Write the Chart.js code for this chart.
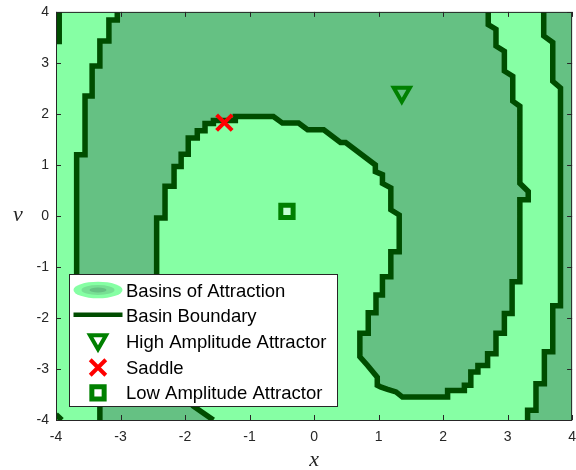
<!DOCTYPE html>
<html>
<head>
<meta charset="utf-8">
<script src="https://cdn.jsdelivr.net/npm/chart.js@4.4.0/dist/chart.umd.min.js"></script>
<style>
  html, body { margin: 0; padding: 0; background: #fff; }
</style>
</head>
<body>
<canvas id="basins" width="576" height="470"></canvas>
<script>
// tick positions on both axes
const xTicks = [-4, -3, -2, -1, 0, 1, 2, 3, 4];
const vTicks = [-4, -3, -2, -1, 0, 1, 2, 3, 4];

// basin boundaries as [x, v] pairs
const outerLeftBoundary = [
  [-3.05, 4.00], [-3.05, 3.84], [-3.18, 3.84], [-3.18, 3.43], [-3.32, 3.43],
  [-3.32, 2.94], [-3.44, 2.94], [-3.44, 2.35], [-3.55, 2.35], [-3.55, 1.20],
  [-3.68, 1.20], [-3.68, -2.40], [-3.55, -2.40], [-3.55, -3.00], [-3.44, -3.00],
  [-3.44, -3.50], [-3.32, -3.50], [-3.32, -4.00]
];
const saddleManifold = [
  [-1.56, -4.00], [-1.87, -3.73], [-2.05, -3.50], [-2.05, -3.30], [-2.18, -3.30],
  [-2.18, -3.00], [-2.31, -3.00], [-2.31, -2.60], [-2.44, -2.60], [-2.44, -0.04],
  [-2.31, -0.04], [-2.31, 0.58], [-2.17, 0.58], [-2.17, 0.97], [-2.06, 0.97],
  [-2.06, 1.21], [-1.95, 1.21], [-1.95, 1.53], [-1.81, 1.53], [-1.81, 1.67],
  [-1.69, 1.67], [-1.69, 1.81], [-1.56, 1.81], [-1.56, 1.87], [-1.22, 1.87],
  [-1.22, 1.95], [-0.63, 1.95], [-0.49, 1.82], [-0.24, 1.82], [-0.10, 1.69],
  [0.15, 1.69], [0.41, 1.44], [0.49, 1.44], [0.95, 1.00], [0.95, 0.87],
  [1.06, 0.81], [1.06, 0.64], [1.19, 0.55], [1.19, 0.12], [1.32, 0.02],
  [1.32, -0.70], [1.19, -0.70], [1.19, -1.19], [1.06, -1.19], [1.06, -1.55],
  [0.96, -1.55], [0.96, -1.90], [0.84, -1.90], [0.84, -2.30], [0.71, -2.30],
  [0.71, -2.76], [0.83, -2.93], [0.98, -3.16], [0.98, -3.32], [1.03, -3.35],
  [1.14, -3.40], [1.27, -3.45], [1.37, -3.55], [2.07, -3.55], [2.07, -3.42],
  [2.33, -3.42], [2.33, -3.32], [2.43, -3.32], [2.43, -3.06], [2.54, -3.06],
  [2.54, -2.93], [2.69, -2.93], [2.69, -2.70], [2.82, -2.70], [2.82, -2.30],
  [2.95, -2.30], [2.95, -1.91], [3.07, -1.91], [3.07, -1.29], [3.19, -1.29],
  [3.19, 0.32], [3.32, 0.32], [3.32, 0.48], [3.19, 0.64], [3.19, 2.15],
  [3.08, 2.25], [3.08, 2.74], [2.95, 2.84], [2.95, 3.23], [2.82, 3.33],
  [2.82, 3.66], [2.70, 3.75], [2.70, 4.00]
];
const outerRightBoundary = [
  [3.56, 4.00], [3.56, 3.53], [3.70, 3.40], [3.70, 2.64], [3.82, 2.51],
  [3.82, -1.76], [3.70, -1.76], [3.70, -2.66], [3.57, -2.66], [3.57, -3.29],
  [3.44, -3.29], [3.44, -3.81], [3.31, -3.81], [3.31, -4.00]
];
const cornerTopLeft = [[-3.95, 4.00], [-3.95, 3.42], [-4.00, 3.42]];
const cornerBottomLeft = [[-4.00, -3.89], [-3.91, -4.00]];
const rightEdge = [[4.00, -4.00], [4.00, 4.00]];

// equilibria
const highAttractor = [1.36, 2.42];
const saddlePoint = [-1.39, 1.83];
const lowAttractor = [-0.42, 0.09];

const legendLabels = ['Basins of Attraction', 'Basin Boundary', 'High Amplitude Attractor', 'Saddle', 'Low Amplitude Attractor'];

const LIGHT = '#86ffa4';
const MID = '#77e094';
const DARK = '#65c183';
const LINE = '#004d00';
const MARK = '#008000';
const RED = '#ff0000';
const AXIS = '#262626';

const pts = a => a.map(([x, y]) => ({ x, y }));
const closed = a => pts(a.concat([a[0]]));

function boundary(data) {
  return { data: pts(data), borderColor: LINE, borderWidth: 5.5, pointRadius: 0, fill: false, order: 1, clip: 0 };
}
function basin(data) {
  return { data: closed(data), borderColor: 'rgba(0,0,0,0)', borderWidth: 0, backgroundColor: DARK, fill: 'shape', pointRadius: 0, order: 2, clip: 0 };
}

function marker(ctx, kind, x, y, r, w, color) {
  ctx.save();
  ctx.strokeStyle = color;
  ctx.lineWidth = w;
  ctx.beginPath();
  if (kind === 'triangleDown') {
    let a = Math.PI;
    for (let k = 0; k < 3; k++) {
      const px = x + Math.sin(a) * r, py = y - Math.cos(a) * r;
      if (k === 0) ctx.moveTo(px, py); else ctx.lineTo(px, py);
      a += 2 * Math.PI / 3;
    }
    ctx.closePath();
  } else if (kind === 'x') {
    const d = r * Math.SQRT1_2;
    ctx.moveTo(x - d, y - d); ctx.lineTo(x + d, y + d);
    ctx.moveTo(x + d, y - d); ctx.lineTo(x - d, y + d);
  } else {
    const s = r * Math.SQRT1_2;
    ctx.rect(x - s, y - s, 2 * s, 2 * s);
  }
  ctx.stroke();
  ctx.restore();
}

const decorations = {
  id: 'decorations',
  beforeDatasetsDraw(chart) {
    const { ctx, chartArea: a } = chart;
    ctx.save();
    ctx.fillStyle = LIGHT;
    ctx.fillRect(a.left, a.top, a.right - a.left, a.bottom - a.top);
    ctx.restore();
  },
  afterDraw(chart) {
    const { ctx, chartArea: a } = chart;
    const xs = chart.scales.x, ys = chart.scales.y;
    ctx.save();
    // inward ticks on all four sides
    ctx.strokeStyle = AXIS;
    ctx.lineWidth = 1;
    ctx.beginPath();
    xTicks.forEach(t => {
      const px = Math.round(xs.getPixelForValue(t)) + 0.5;
      ctx.moveTo(px, a.bottom); ctx.lineTo(px, a.bottom - 5);
      ctx.moveTo(px, a.top); ctx.lineTo(px, a.top + 5);
    });
    vTicks.forEach(t => {
      const py = Math.round(ys.getPixelForValue(t)) + 0.5;
      ctx.moveTo(a.left, py); ctx.lineTo(a.left + 5, py);
      ctx.moveTo(a.right, py); ctx.lineTo(a.right - 5, py);
    });
    ctx.stroke();
    ctx.strokeRect(a.left + 0.5, a.top + 0.5, a.right - a.left - 1, a.bottom - a.top);

    // legend box
    const bx = a.left + 13, by = a.bottom - 146, bw = 268, bh = 132;
    ctx.fillStyle = '#fff';
    ctx.fillRect(bx, by, bw, bh);
    ctx.strokeRect(bx + 0.5, by + 0.5, bw, bh);
    const ix = bx + 29, tx = bx + 57;
    const row = i => by + 16 + i * 25.7;

    // contour icon
    [[24.5, 8.3, LIGHT], [16.5, 5, MID], [8.5, 2.4, DARK]].forEach(([rx, ry, c]) => {
      ctx.fillStyle = c;
      ctx.beginPath();
      ctx.ellipse(ix, row(0), rx, ry, 0, 0, 2 * Math.PI);
      ctx.fill();
    });
    // line icon
    ctx.strokeStyle = LINE;
    ctx.lineWidth = 4.5;
    ctx.beginPath();
    ctx.moveTo(ix - 24.5, row(1) - 1); ctx.lineTo(ix + 24.5, row(1) - 1);
    ctx.stroke();
    marker(ctx, 'triangleDown', ix, row(2) - 1.4, 9.3, 4, MARK);
    marker(ctx, 'x', ix, row(3) + 0.4, 11, 4, RED);
    marker(ctx, 'square', ix, row(4), 8.7, 5, MARK);

    ctx.fillStyle = '#000';
    ctx.font = '18.5px "Liberation Sans", Arial, sans-serif';
    ctx.textAlign = 'left';
    ctx.textBaseline = 'alphabetic';
    legendLabels.forEach((s, i) => ctx.fillText(s, tx, row(i) + 6.5));

    // axis titles
    ctx.fillStyle = AXIS;
    ctx.font = 'italic 22px "Liberation Serif", "Times New Roman", serif';
    ctx.textAlign = 'center';
    ctx.fillText('x', (a.left + a.right) / 2, a.bottom + 46);
    ctx.fillText('v', 18, (a.top + a.bottom) / 2 + 5);
    ctx.restore();
  }
};

Chart.defaults.font.family = '"Liberation Sans", Arial, sans-serif';

new Chart(document.getElementById('basins'), {
  type: 'line',
  data: {
    datasets: [
      {
        data: pts([highAttractor]), showLine: false, pointStyle: 'triangle', pointRotation: 180,
        pointRadius: 9.3, pointBorderWidth: 4, pointBorderColor: MARK, pointBackgroundColor: 'rgba(0,0,0,0)', order: 0
      },
      {
        data: pts([saddlePoint]), showLine: false, pointStyle: 'crossRot',
        pointRadius: 11, pointBorderWidth: 4, pointBorderColor: RED, pointBackgroundColor: RED, order: 0
      },
      {
        data: pts([lowAttractor]), showLine: false, pointStyle: 'rect',
        pointRadius: 8.7, pointBorderWidth: 5, pointBorderColor: MARK, pointBackgroundColor: 'rgba(255,255,255,0.5)', order: 0
      },
      boundary(outerLeftBoundary),
      boundary(saddleManifold),
      boundary(outerRightBoundary),
      boundary(cornerTopLeft),
      boundary(cornerBottomLeft),
      basin(outerLeftBoundary.concat(saddleManifold)),
      basin(outerRightBoundary.concat(rightEdge))
    ]
  },
  options: {
    responsive: false,
    animation: false,
    events: [],
    layout: { autoPadding: false, padding: { top: 0, right: 1, left: 0, bottom: 0 } },
    plugins: { legend: { display: false }, tooltip: { enabled: false } },
    scales: {
      x: {
        type: 'linear', min: -4, max: 4,
        grid: { display: false, drawTicks: false }, border: { display: false },
        afterBuildTicks: s => { s.ticks = xTicks.map(value => ({ value })); },
        afterFit: s => { s.height = 50; },
        ticks: { font: { size: 14, lineHeight: 2.5 }, color: AXIS, padding: 0, autoSkip: false, maxRotation: 0 }
      },
      y: {
        type: 'linear', min: -4, max: 4,
        grid: { display: false, drawTicks: false }, border: { display: false },
        afterBuildTicks: s => { s.ticks = vTicks.map(value => ({ value })); },
        afterFit: s => { s.width = 56; },
        ticks: { font: { size: 14, lineHeight: 0.7 }, color: AXIS, padding: 7, autoSkip: false }
      }
    }
  },
  plugins: [decorations]
});
</script>
</body>
</html>
